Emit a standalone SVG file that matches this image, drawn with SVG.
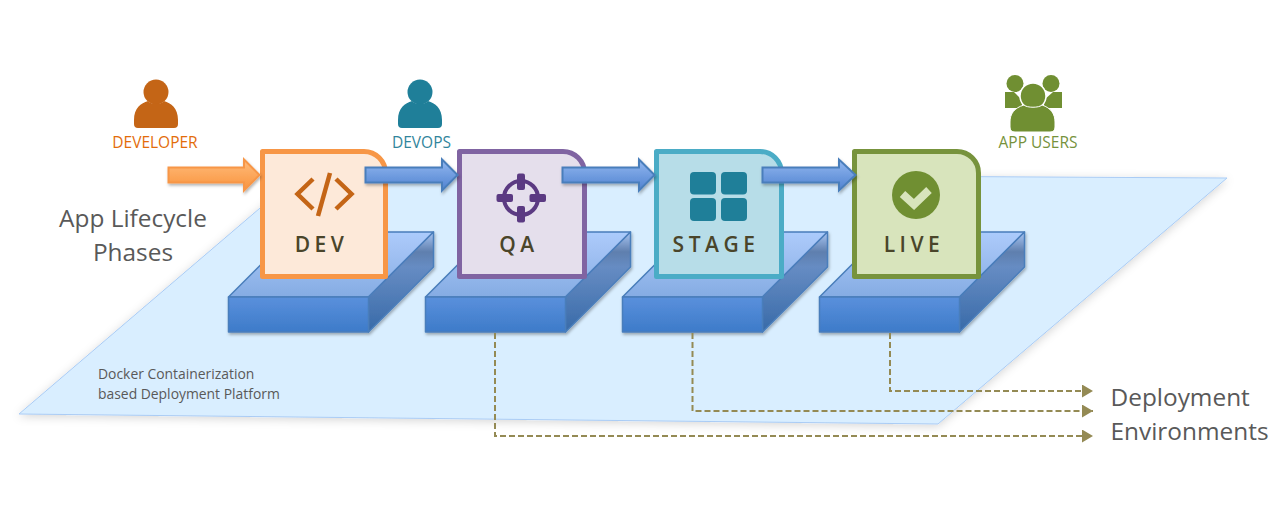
<svg xmlns="http://www.w3.org/2000/svg" width="1288" height="517" viewBox="0 0 1288 517">
<style>
text{font-family:"Open Sans","Noto Sans","Liberation Sans",sans-serif}
.lbl{font-size:15.500px;text-anchor:middle}
.big{font-size:24.400px;fill:#595959}
.small{font-size:13.900px;fill:#595959}
.ct{font-size:21px;font-weight:600;fill:#4a452a;text-anchor:middle;letter-spacing:4.500px}
.card{stroke-width:5;stroke-linejoin:round}
.front{fill:url(#gFront);stroke:#4a7ebb;stroke-width:1.500;stroke-linejoin:round}
.top{fill:url(#gTop);stroke:#4a7ebb;stroke-width:1.500;stroke-linejoin:round}
.side{fill:url(#gSide);stroke:#4a7ebb;stroke-width:1.500;stroke-linejoin:round}
.blue{fill:url(#gArrow);stroke:#4a7ebb;stroke-width:2;filter:url(#sh)}
.dash{fill:none;stroke:#948a54;stroke-width:2;stroke-dasharray:6 3;marker-end:url(#tri)}
</style>
<defs>
<linearGradient id="gFront" x1="0" y1="0" x2="0" y2="1"><stop offset="0" stop-color="#5a90dc"/><stop offset="1" stop-color="#3d7bc9"/></linearGradient>
<linearGradient id="gTop" x1="0" y1="0" x2="0" y2="1"><stop offset="0" stop-color="#abcbfc"/><stop offset=".2" stop-color="#a6c5f6"/><stop offset="1" stop-color="#85ace3"/></linearGradient>
<linearGradient id="gSide" x1="0" y1="0" x2="0" y2="1"><stop offset="0" stop-color="#a9c6f4"/><stop offset=".2" stop-color="#5f7fae"/><stop offset=".35" stop-color="#668cc3"/><stop offset="1" stop-color="#386aa8"/></linearGradient>
<linearGradient id="gArrow" x1="0" y1="0" x2="0" y2="1"><stop offset="0" stop-color="#93b8f0"/><stop offset="1" stop-color="#4f82d0"/></linearGradient>
<linearGradient id="gOrange" x1="0" y1="0" x2="0" y2="1"><stop offset="0" stop-color="#ffbc7c"/><stop offset="1" stop-color="#f9933c"/></linearGradient>
<filter id="sh" x="-20%" y="-30%" width="140%" height="170%"><feDropShadow dx="1" dy="2" stdDeviation="1.500" flood-color="#000" flood-opacity=".3"/></filter>
<filter id="shP" x="-5%" y="-10%" width="110%" height="120%"><feDropShadow dx="0" dy="2" stdDeviation="5" flood-color="#000" flood-opacity=".16"/></filter>
<marker id="tri" markerUnits="userSpaceOnUse" markerWidth="12" markerHeight="14" refX="11" refY="6.500" orient="auto"><path d="M0 0L11 6.500L0 13Z" fill="#948a54"/></marker>
</defs>

<g id="platform">
<polygon points="19,414 938,424 1227,178 301,173" fill="#d9eeff" stroke="#aaccf5" stroke-width="1" filter="url(#shP)"/>
<text class="small" x="98" y="379">Docker Containerization</text>
<text class="small" x="98" y="399">based Deployment Platform</text>
</g>

<g id="label-phases">
<text class="big" x="133" y="227" text-anchor="middle">App Lifecycle</text>
<text class="big" x="133" y="261" text-anchor="middle">Phases</text>
</g>
<g id="label-environments">
<text class="big" x="1110.500" y="406">Deployment</text>
<text class="big" x="1110.500" y="440">Environments</text>
</g>

<g id="block-dev" filter="url(#sh)">
<polygon class="top" points="228.500,297 293.500,232 433.500,232 368.500,297"/>
<polygon class="side" points="368.500,297 433.500,232 433.500,267 368.500,332"/>
<rect class="front" x="228.500" y="297" width="140" height="35"/>
</g>
<g id="block-qa" filter="url(#sh)">
<polygon class="top" points="425.500,297 490.500,232 630.500,232 565.500,297"/>
<polygon class="side" points="565.500,297 630.500,232 630.500,267 565.500,332"/>
<rect class="front" x="425.500" y="297" width="140" height="35"/>
</g>
<g id="block-stage" filter="url(#sh)">
<polygon class="top" points="622.500,297 687.500,232 827.500,232 762.500,297"/>
<polygon class="side" points="762.500,297 827.500,232 827.500,267 762.500,332"/>
<rect class="front" x="622.500" y="297" width="140" height="35"/>
</g>
<g id="block-live" filter="url(#sh)">
<polygon class="top" points="819.500,297 884.500,232 1024.500,232 959.500,297"/>
<polygon class="side" points="959.500,297 1024.500,232 1024.500,267 959.500,332"/>
<rect class="front" x="819.500" y="297" width="140" height="35"/>
</g>

<g id="card-dev">
<path class="card" d="M262.500 151.500H364a21.500 21.500 0 0 1 21.500 21.500V276.500H262.500Z" fill="#fde9d9" stroke="#f79646"/>
<g fill="none" stroke="#c46516" stroke-width="4.500">
<path d="M313 179L297.500 194L313 209"/><path d="M336 179L351.500 194L336 209"/><path d="M330 173L318 216"/>
</g>
<text class="ct" x="321.500" y="252">DEV</text>
</g>
<g id="card-qa">
<path class="card" d="M459.500 151.500H563a21.500 21.500 0 0 1 21.500 21.500V276.500H459.500Z" fill="#e5dfec" stroke="#8064a2"/>
<circle cx="521" cy="198" r="17" fill="none" stroke="#5b3a82" stroke-width="4"/>
<g fill="#5b3a82">
<rect x="517" y="173.500" width="8" height="16.500" rx="2"/><rect x="517" y="206" width="8" height="16.500" rx="2"/>
<rect x="496.500" y="194" width="16.500" height="8" rx="2"/><rect x="529.500" y="194" width="16.500" height="8" rx="2"/>
</g>
<text class="ct" x="519" y="252">QA</text>
</g>
<g id="card-stage">
<path class="card" d="M656.500 151.500H760a21.500 21.500 0 0 1 21.500 21.500V276.500H656.500Z" fill="#b7dde8" stroke="#4bacc6"/>
<g fill="#1f7f99">
<rect x="690" y="172" width="26" height="22.500" rx="4"/><rect x="721" y="172" width="26" height="22.500" rx="4"/>
<rect x="690" y="198" width="26" height="23" rx="4"/><rect x="721" y="198" width="26" height="23" rx="4"/>
</g>
<text class="ct" x="716" y="252">STAGE</text>
</g>
<g id="card-live">
<path class="card" d="M854.500 151.500H957a21.500 21.500 0 0 1 21.500 21.500V276.500H854.500Z" fill="#d8e4bc" stroke="#77933c"/>
<circle cx="916" cy="195" r="24" fill="#708f32"/>
<path d="M902.500 194L914 204.500L929 190" fill="none" stroke="#d8e4bc" stroke-width="8" stroke-linejoin="miter"/>
<text class="ct" x="914" y="252">LIVE</text>
</g>

<g id="actor-developer" fill="#c46516">
<circle cx="156" cy="92" r="12.500"/>
<path d="M134 120C134 108 141 103 148 101C151 105 161 105 164 101C171 103 178 108 178 120V124Q178 128 174 128H138Q134 128 134 124Z"/>
<text class="lbl" x="155" y="148" fill="#e36c0a">DEVELOPER</text>
</g>
<g id="actor-devops" fill="#1f7f99">
<circle cx="420" cy="92" r="12.500"/>
<path d="M398 120C398 108 405 103 412 101C415 105 425 105 428 101C435 103 442 108 442 120V124Q442 128 438 128H402Q398 128 398 124Z"/>
<text class="lbl" x="421.500" y="148" fill="#31859c">DEVOPS</text>
</g>
<g id="actor-users" fill="#708f32">
<circle cx="1015" cy="83.500" r="8.500"/><circle cx="1051" cy="83.500" r="8.500"/>
<path d="M1005 92H1014L1022 100V108H1005ZM1062 92H1053L1044 100V108H1062Z"/>
<circle cx="1033" cy="96" r="13" stroke="#fff" stroke-width="1.500"/>
<path d="M1010 122C1010 114 1014 108 1024 105C1027 108 1039 108 1042 105C1051 108 1055 114 1055 122V127Q1055 132 1050 132H1015Q1010 132 1010 127Z" stroke="#fff" stroke-width="1"/>
<text class="lbl" x="1038" y="148" fill="#76923c">APP USERS</text>
</g>

<g id="connectors">
<path d="M168.500 167.500H244V159.500L259.500 175L244 190.500V182.500H168.500Z" fill="url(#gOrange)" stroke="#f79646" stroke-width="2" filter="url(#sh)"/>
<path class="blue" d="M365.500 167.500H442V159.500L457.500 175L442 190.500V182.500H365.500Z"/>
<path class="blue" d="M562.500 167.500H639V159.500L654.500 175L639 190.500V182.500H562.500Z"/>
<path class="blue" d="M762.500 167.500H839V159.500L855.500 175L839 190.500V182.500H762.500Z"/>
<path class="dash" d="M495 333V436H1093"/>
<path class="dash" d="M692.500 333V411H1093"/>
<path class="dash" d="M890 333V391H1093"/>
</g>
</svg>
